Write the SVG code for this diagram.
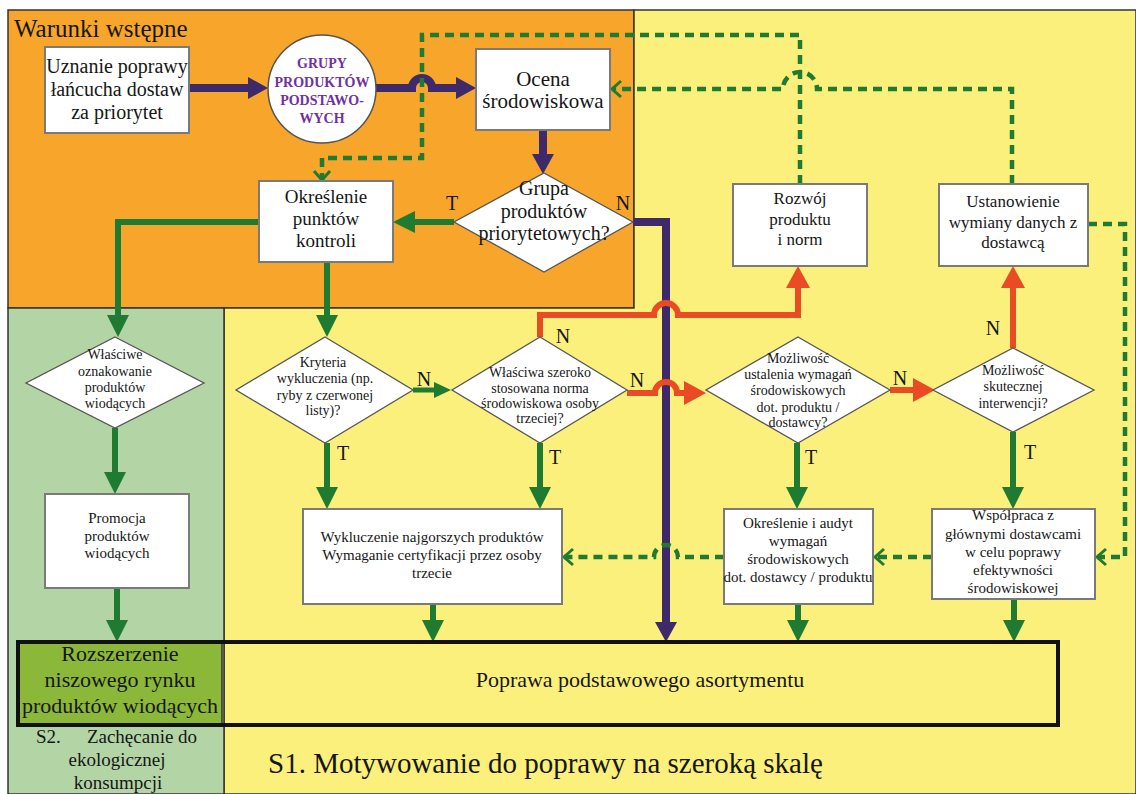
<svg xmlns="http://www.w3.org/2000/svg" width="1136" height="794" viewBox="0 0 1136 794">
<style>
.t{font-family:"Liberation Serif","DejaVu Serif",serif;fill:#161616;text-anchor:middle}
.box{fill:#ffffff;stroke:#7a7a7a;stroke-width:2}
.dia{fill:#ffffff;stroke:#555555;stroke-width:1.3}
.pur{fill:none;stroke:#3e2a6b;stroke-width:8}
.grn{fill:none;stroke:#1f7a32;stroke-width:6}
.red{fill:none;stroke:#e94b24;stroke-width:6}
.dsh{fill:none;stroke:#1f7a32;stroke-width:4.5;stroke-dasharray:9 6}
.lbl{font-size:20px}
.s14{font-size:14px}
.s15{font-size:15px}
.s17{font-size:17px}
.s20{font-size:20px}
</style>
<defs>
<marker id="mP" markerUnits="userSpaceOnUse" markerWidth="20" markerHeight="22" viewBox="0 0 20 22" refX="12" refY="11" orient="auto"><path d="M0,0 L20,11 L0,22 z" fill="#3e2a6b"/></marker>
<marker id="mG" markerUnits="userSpaceOnUse" markerWidth="22" markerHeight="22" viewBox="0 0 22 22" refX="16" refY="11" orient="auto"><path d="M0,0 L22,11 L0,22 z" fill="#1f7a32"/></marker>
<marker id="mGs" markerUnits="userSpaceOnUse" markerWidth="17" markerHeight="16" viewBox="0 0 17 16" refX="11" refY="8" orient="auto"><path d="M0,0 L17,8 L0,16 z" fill="#1f7a32"/></marker>
<marker id="mR" markerUnits="userSpaceOnUse" markerWidth="22" markerHeight="24" viewBox="0 0 22 24" refX="16" refY="12" orient="auto"><path d="M0,0 L22,12 L0,24 z" fill="#e94b24"/></marker>
<marker id="mC" markerUnits="userSpaceOnUse" markerWidth="12" markerHeight="18" viewBox="0 0 12 18" refX="10" refY="9" orient="auto" overflow="visible"><path d="M1,1 L10,9 L1,17" fill="none" stroke="#1f7a32" stroke-width="3"/></marker>
</defs>

<g id="regions">
<rect x="8" y="10" width="626" height="298" fill="#f7a62b" stroke="#333" stroke-width="1.5"/>
<path d="M634,10 H1136 V794 H224 V308 H634 Z" fill="#fcf07d" stroke="#333" stroke-width="1.5"/>
<rect x="8" y="308" width="216" height="486" fill="#b3d5a6" stroke="#333" stroke-width="1.5"/>
<text class="t" x="14" y="37" style="font-size:25px;text-anchor:start">Warunki wstępne</text>
<text class="t" x="268" y="773" style="font-size:29px;text-anchor:start">S1. Motywowanie do poprawy na szeroką skalę</text>
<text class="t" x="36" y="743" style="font-size:19px;text-anchor:start">S2.</text>
<text class="t" x="142" y="743" style="font-size:19px">Zachęcanie do</text>
<text class="t" x="117" y="766" style="font-size:19px">ekologicznej</text>
<text class="t" x="118" y="789" style="font-size:19px">konsumpcji</text>
</g>

<g id="connectors">
<path class="pur" d="M189,88 H260" marker-end="url(#mP)"/>
<path class="pur" d="M376,88 H412 A10,10 0 0 1 432,88 H468" marker-end="url(#mP)"/>
<path class="pur" d="M543,130 V166" marker-end="url(#mP)"/>
<path class="pur" d="M633,222 H666 V634" marker-end="url(#mP)"/>

<path class="grn" d="M454,222 H399" marker-end="url(#mG)"/>
<path class="grn" d="M259,222 H118 V331" marker-end="url(#mG)"/>
<path class="grn" d="M327,262 V331" marker-end="url(#mG)"/>
<path class="grn" d="M115,428 V488" marker-end="url(#mG)"/>
<path class="grn" d="M117,588 V636" marker-end="url(#mG)"/>
<path class="grn" style="stroke-width:5" d="M413,390 H445" marker-end="url(#mGs)"/>
<path class="grn" d="M327,443 V503" marker-end="url(#mG)"/>
<path class="grn" d="M540,443 V503" marker-end="url(#mG)"/>
<path class="grn" d="M797,443 V503" marker-end="url(#mG)"/>
<path class="grn" d="M1013,432 V503" marker-end="url(#mG)"/>
<path class="grn" d="M433,604 V636" marker-end="url(#mG)"/>
<path class="grn" d="M798,604 V636" marker-end="url(#mG)"/>
<path class="grn" d="M1014,599 V636" marker-end="url(#mG)"/>

<path class="red" d="M540,337 V315 H654 A12,12 0 0 1 678,315 H798 V272" marker-end="url(#mR)"/>
<path class="red" d="M627,393 H655 A11,11 0 0 1 677,393 H700" marker-end="url(#mR)"/>
<path class="red" d="M890,390 H929" marker-end="url(#mR)"/>
<path class="red" d="M1013,348 V272" marker-end="url(#mR)"/>

<path class="dsh" d="M800,184 V35 H422 V158 H322 V180" marker-end="url(#mC)"/>
<path class="dsh" d="M1012,184 V89 H817 A17,17 0 0 0 783,89 H612" marker-end="url(#mC)"/>
<path class="dsh" d="M1088,224 H1125 V557 H1097" marker-end="url(#mC)"/>
<path class="dsh" d="M932,557 H875" marker-end="url(#mC)"/>
<path class="dsh" d="M724,557 H678 A12,12 0 0 0 654,557 H564" marker-end="url(#mC)"/>

<text class="t lbl" x="452" y="210">T</text>
<text class="t lbl" x="623" y="210">N</text>
<text class="t lbl" x="563" y="343">N</text>
<text class="t lbl" x="637" y="387">N</text>
<text class="t lbl" x="424" y="386">N</text>
<text class="t lbl" x="343" y="460">T</text>
<text class="t lbl" x="555" y="464">T</text>
<text class="t lbl" x="811" y="464">T</text>
<text class="t lbl" x="900" y="385">N</text>
<text class="t lbl" x="993" y="335">N</text>
<text class="t lbl" x="1030" y="459">T</text>
</g>

<g id="n-uznanie">
<rect class="box" x="45" y="47" width="144" height="86"/>
<text class="t s20" x="117" y="73">Uznanie poprawy</text>
<text class="t s20" x="117" y="96">łańcucha dostaw</text>
<text class="t s20" x="117" y="119">za priorytet</text>
</g>

<g id="n-grupy">
<circle cx="322" cy="89" r="54" fill="#ffffff" stroke="#555" stroke-width="1.5"/>
<text class="t" x="322" y="68" style="font-size:14px;font-weight:bold;fill:#7030a0">GRUPY</text>
<text class="t" x="322" y="87" style="font-size:14px;font-weight:bold;fill:#7030a0">PRODUKTÓW</text>
<text class="t" x="322" y="105" style="font-size:14px;font-weight:bold;fill:#7030a0">PODSTAWO-</text>
<text class="t" x="322" y="123" style="font-size:14px;font-weight:bold;fill:#7030a0">WYCH</text>
</g>

<g id="n-ocena">
<rect class="box" x="476" y="49" width="134" height="81"/>
<text class="t" x="543" y="86" style="font-size:21px">Ocena</text>
<text class="t" x="543" y="108" style="font-size:21px">środowiskowa</text>
</g>

<g id="n-grupa-priorytet">
<polygon class="dia" points="544,173 633,222 544,272 454,222"/>
<text class="t s20" x="544" y="195">Grupa</text>
<text class="t s20" x="544" y="218">produktów</text>
<text class="t s20" x="544" y="240">priorytetowych?</text>
</g>

<g id="n-okreslenie-punktow">
<rect class="box" x="259" y="181" width="134" height="81"/>
<text class="t" x="326" y="203" style="font-size:19px">Określenie</text>
<text class="t" x="326" y="225" style="font-size:19px">punktów</text>
<text class="t" x="326" y="247" style="font-size:19px">kontroli</text>
</g>

<g id="n-rozwoj">
<rect class="box" x="733" y="184" width="134" height="82"/>
<text class="t s17" x="800" y="204">Rozwój</text>
<text class="t s17" x="800" y="225">produktu</text>
<text class="t s17" x="800" y="245">i norm</text>
</g>

<g id="n-ustanowienie">
<rect class="box" x="939" y="184" width="149" height="82"/>
<text class="t s17" x="1013" y="207">Ustanowienie</text>
<text class="t s17" x="1013" y="228">wymiany danych z</text>
<text class="t s17" x="1013" y="248">dostawcą</text>
</g>

<g id="n-wlasciwe-oznakowanie">
<polygon class="dia" points="115,337 204,383 115,428 26,383"/>
<text class="t s14" x="115" y="359">Właściwe</text>
<text class="t s14" x="115" y="376">oznakowanie</text>
<text class="t s14" x="115" y="392">produktów</text>
<text class="t s14" x="115" y="408">wiodących</text>
</g>

<g id="n-kryteria">
<polygon class="dia" points="325,337 413,390 325,443 236,390"/>
<text class="t s14" x="323" y="367">Kryteria</text>
<text class="t s14" x="325" y="383">wykluczenia (np.</text>
<text class="t s14" x="325" y="400">ryby z czerwonej</text>
<text class="t s14" x="323" y="415">listy)?</text>
</g>

<g id="n-wlasciwa-norma">
<polygon class="dia" points="540,337 627,390 540,443 452,390"/>
<text class="t s14" x="540" y="377">Właściwa szeroko</text>
<text class="t s14" x="540" y="393">stosowana norma</text>
<text class="t s14" x="540" y="408">środowiskowa osoby</text>
<text class="t s14" x="540" y="423">trzeciej?</text>
</g>

<g id="n-mozliwosc-ustalenia">
<polygon class="dia" points="798,337 890,390 798,443 706,390"/>
<text class="t s14" x="798" y="363">Możliwość</text>
<text class="t s14" x="798" y="379">ustalenia wymagań</text>
<text class="t s14" x="798" y="395">środowiskowych</text>
<text class="t s14" x="798" y="412">dot. produktu /</text>
<text class="t s14" x="798" y="427">dostawcy?</text>
</g>

<g id="n-mozliwosc-interwencji">
<polygon class="dia" points="1013,348 1094,390 1013,432 933,390"/>
<text class="t s14" x="1013" y="375">Możliwość</text>
<text class="t s14" x="1013" y="391">skutecznej</text>
<text class="t s14" x="1013" y="408">interwencji?</text>
</g>

<g id="n-promocja">
<rect class="box" x="45" y="494" width="144" height="94"/>
<text class="t s15" x="117" y="523">Promocja</text>
<text class="t s15" x="117" y="541">produktów</text>
<text class="t s15" x="117" y="558">wiodących</text>
</g>

<g id="n-wykluczenie">
<rect class="box" x="303" y="509" width="259" height="95"/>
<text class="t s15" x="432" y="542">Wykluczenie najgorszych produktów</text>
<text class="t s15" x="432" y="560">Wymaganie certyfikacji przez osoby</text>
<text class="t s15" x="432" y="578">trzecie</text>
</g>

<g id="n-audyt">
<rect class="box" x="724" y="509" width="149" height="95"/>
<text class="t s15" x="798" y="528">Określenie i audyt</text>
<text class="t s15" x="798" y="546">wymagań</text>
<text class="t s15" x="798" y="564">środowiskowych</text>
<text class="t s15" x="798" y="582">dot. dostawcy / produktu</text>
</g>

<g id="n-wspolpraca">
<rect class="box" x="932" y="509" width="163" height="90"/>
<text class="t s15" x="1013" y="520">Współpraca z</text>
<text class="t s15" x="1013" y="539">głównymi dostawcami</text>
<text class="t s15" x="1013" y="557">w celu poprawy</text>
<text class="t s15" x="1013" y="575">efektywności</text>
<text class="t s15" x="1013" y="593">środowiskowej</text>
</g>

<g id="n-rozszerzenie">
<rect x="20" y="644" width="202" height="79" fill="#8cb83a"/>
<text class="t" x="120" y="661" style="font-size:22px">Rozszerzenie</text>
<text class="t" x="120" y="687" style="font-size:22px">niszowego rynku</text>
<text class="t" x="120" y="713" style="font-size:22px">produktów wiodących</text>
</g>

<g id="n-poprawa">
<rect x="18" y="642" width="1040" height="83" fill="none" stroke="#111" stroke-width="4"/>
<line x1="222" y1="644" x2="222" y2="723" stroke="#333" stroke-width="1.5"/>
<text class="t" x="640" y="687" style="font-size:22px">Poprawa podstawowego asortymentu</text>
</g>
</svg>
